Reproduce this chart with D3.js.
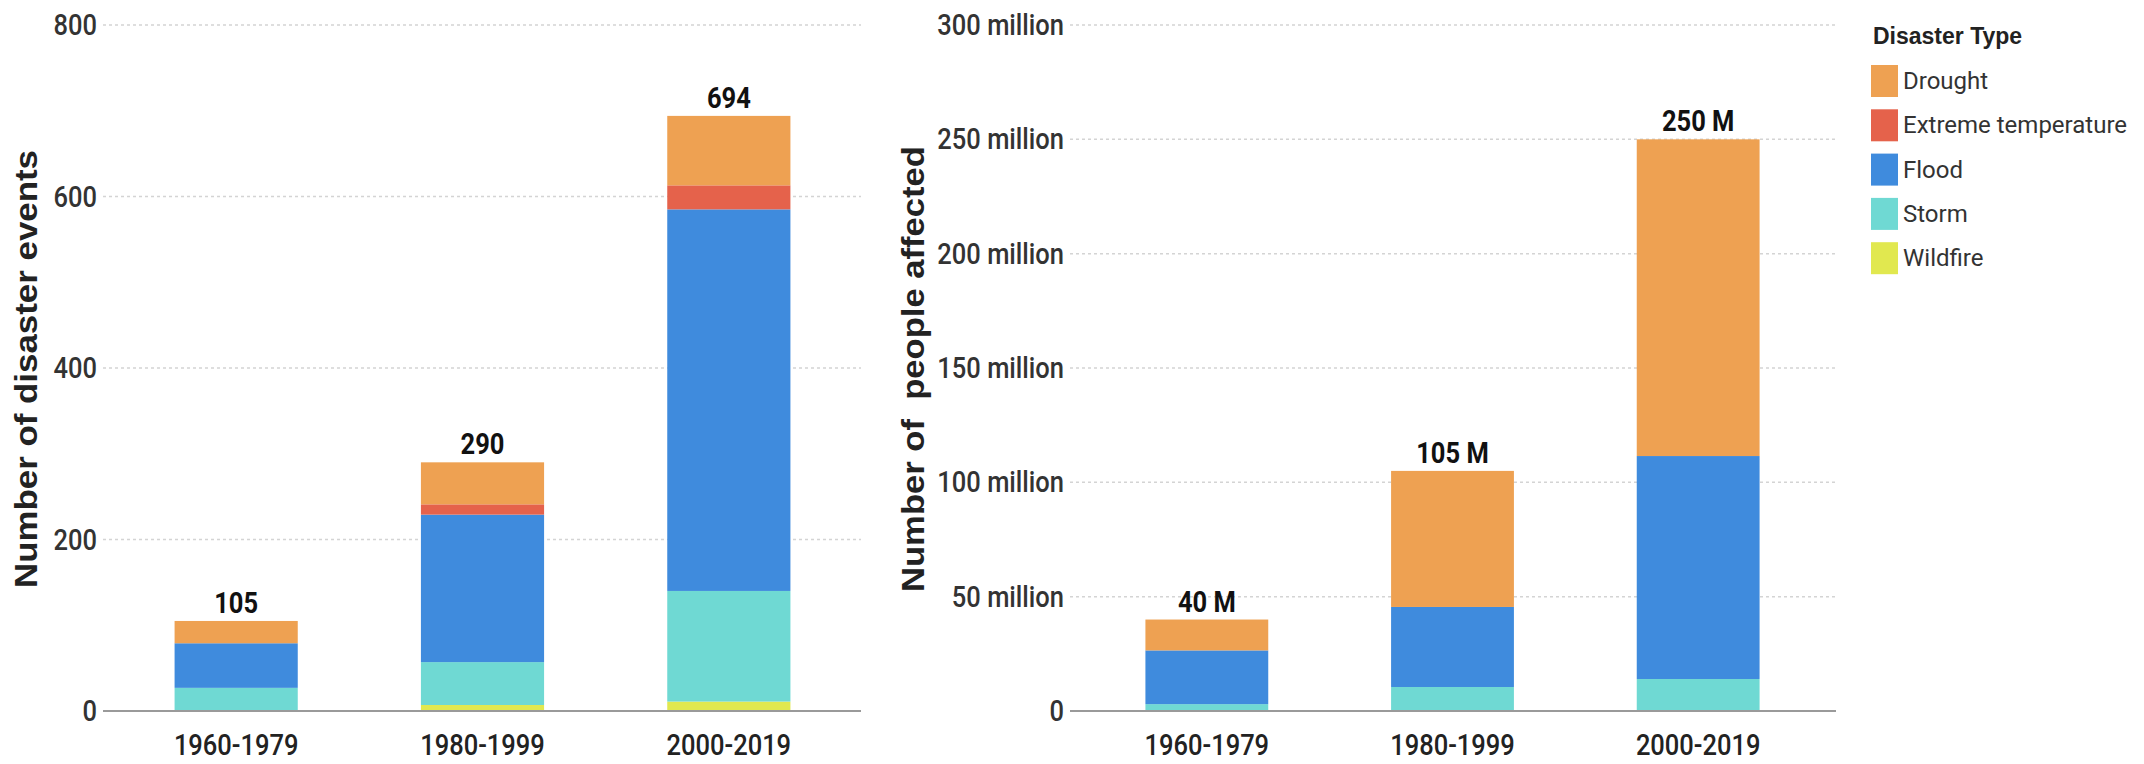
<!DOCTYPE html>
<html lang="en">
<head>
    <meta charset="UTF-8">
    <title>Disaster events and people affected</title>
    <script src="https://d3js.org/d3.v7.min.js"></script>
    <style>
        body {
            margin: 0;
            background: #fff;
        }
        svg {
            display: block;
        }
        .grid line {
            stroke: #d4d4d4;
            stroke-width: 1.5px;
            stroke-dasharray: 3,3;
        }
        .baseline {
            stroke: #9a9a9a;
            stroke-width: 2px;
        }
        .tick-label {
            font-family: Roboto, sans-serif;
            font-size: 30px;
            font-weight: 500;
            fill: #333;
        }
        .cat-label {
            font-family: Roboto, sans-serif;
            font-size: 30px;
            font-weight: 500;
            fill: #222;
            text-anchor: middle;
        }
        .total-label {
            font-family: Roboto, sans-serif;
            font-size: 30px;
            font-weight: bold;
            fill: #111;
            text-anchor: middle;
        }
        .axis-title {
            font-family: "Liberation Sans", Arial, sans-serif;
            font-size: 31px;
            font-weight: bold;
            fill: #222;
            text-anchor: middle;
            white-space: pre;
        }
        .legend-title {
            font-family: "Liberation Sans", Arial, sans-serif;
            font-size: 23px;
            font-weight: bold;
            fill: #222;
        }
        .legend-label {
            font-family: Roboto, sans-serif;
            font-size: 24px;
            fill: #333;
        }
    </style>
</head>
<body>
<svg id="chart" width="2144" height="764"></svg>
<script>
    // categories
    const periods = ["1960-1979", "1980-1999", "2000-2019"];
    const types = ["Drought", "Extreme temperature", "Flood", "Storm", "Wildfire"];
    const typeColors = ["#eea152", "#e5624b", "#3f8bdd", "#6fd9d3", "#e1e84f"];

    // number of disaster events, per period
    const eventsDrought = [26, 49, 81];
    const eventsExtremeTemp = [0, 12, 28];
    const eventsFlood = [52, 172, 445];
    const eventsStorm = [27, 50, 129];
    const eventsWildfire = [0, 7, 11];
    const eventTotals = [105, 290, 694];

    // people affected (millions), per period
    const affectedDrought = [13.5, 59.5, 138.5];
    const affectedExtremeTemp = [0, 0, 0];
    const affectedFlood = [23.5, 35, 97.5];
    const affectedStorm = [3, 10.5, 14];
    const affectedWildfire = [0, 0, 0];
    const affectedTotals = [40, 105, 250];

    // tick labels
    const eventTicks = [0, 200, 400, 600, 800];
    const eventTickLabels = ["0", "200", "400", "600", "800"];
    const affectedTicks = [0, 50, 100, 150, 200, 250, 300];
    const affectedTickLabels = ["0", "50 million", "100 million", "150 million", "200 million", "250 million", "300 million"];
    const affectedTotalLabels = ["40 M", "105 M", "250 M"];

    const color = d3.scaleOrdinal().domain(types).range(typeColors);
    // bottom-to-top stacking order
    const stackKeys = ["Wildfire", "Storm", "Flood", "Extreme temperature", "Drought"];

    // the chart's labels use a condensed face; squeeze Roboto to fake it
    const squeeze = 0.85;

    const svg = d3.select("#chart");

    function buildRows(drought, extreme, flood, storm, wildfire) {
        return periods.map((p, i) => ({
            period: p,
            "Drought": drought[i],
            "Extreme temperature": extreme[i],
            "Flood": flood[i],
            "Storm": storm[i],
            "Wildfire": wildfire[i]
        }));
    }

    function drawPanel(opts) {
        const g = svg.append("g");
        const y = d3.scaleLinear().domain([0, opts.max]).range([711, 25]);
        const x = d3.scaleBand().domain(periods)
            .range(opts.band)
            .paddingInner(0.5)
            .paddingOuter(0.25);

        // dotted grid
        g.append("g").attr("class", "grid")
            .selectAll("line")
            .data(opts.ticks.filter(t => t > 0))
            .join("line")
            .attr("x1", opts.grid[0])
            .attr("x2", opts.grid[1])
            .attr("y1", d => y(d))
            .attr("y2", d => y(d));

        // tick labels
        g.append("g")
            .selectAll("text")
            .data(opts.ticks)
            .join("text")
            .attr("class", "tick-label")
            .attr("text-anchor", "end")
            .attr("transform", d => `translate(${opts.grid[0] - 6},${y(d) + 10}) scale(${squeeze},1)`)
            .text((d, i) => opts.tickLabels[i]);

        // stacked bars
        const series = d3.stack().keys(stackKeys)(opts.rows);
        g.append("g")
            .selectAll("g")
            .data(series)
            .join("g")
            .attr("fill", d => color(d.key))
            .selectAll("rect")
            .data(d => d)
            .join("rect")
            .attr("x", d => x(d.data.period))
            .attr("width", x.bandwidth())
            .attr("y", d => y(d[1]))
            .attr("height", d => y(d[0]) - y(d[1]));

        // zero line
        g.append("line")
            .attr("class", "baseline")
            .attr("x1", opts.grid[0])
            .attr("x2", opts.grid[1])
            .attr("y1", y(0))
            .attr("y2", y(0));

        // totals on top
        g.append("g")
            .selectAll("text")
            .data(opts.totals)
            .join("text")
            .attr("class", "total-label")
            .attr("transform", (d, i) => `translate(${x(periods[i]) + x.bandwidth() / 2},${y(d) - 8}) scale(${squeeze},1)`)
            .text((d, i) => opts.totalLabels[i]);

        // period labels
        g.append("g")
            .selectAll("text")
            .data(periods)
            .join("text")
            .attr("class", "cat-label")
            .attr("transform", d => `translate(${x(d) + x.bandwidth() / 2},755) scale(${squeeze},1)`)
            .text(d => d);

        // y axis title
        g.append("text")
            .attr("class", "axis-title")
            .attr("transform", `translate(${opts.titleX},${opts.titleY}) rotate(-90)`)
            .attr("textLength", opts.titleLength)
            .attr("lengthAdjust", "spacingAndGlyphs")
            .text(opts.title);
    }

    drawPanel({
        rows: buildRows(eventsDrought, eventsExtremeTemp, eventsFlood, eventsStorm, eventsWildfire),
        max: 800,
        ticks: eventTicks,
        tickLabels: eventTickLabels,
        totals: eventTotals,
        totalLabels: eventTotals.map(String),
        band: [113, 852],
        grid: [103, 861],
        title: "Number of disaster events",
        titleX: 37,
        titleY: 369,
        titleLength: 438
    });

    drawPanel({
        rows: buildRows(affectedDrought, affectedExtremeTemp, affectedFlood, affectedStorm, affectedWildfire),
        max: 300,
        ticks: affectedTicks,
        tickLabels: affectedTickLabels,
        totals: affectedTotals,
        totalLabels: affectedTotalLabels,
        band: [1084, 1821],
        grid: [1070, 1836],
        title: "Number of  people affected",
        titleX: 924,
        titleY: 369,
        titleLength: 446
    });

    // legend
    const legend = svg.append("g").attr("transform", "translate(1871,0)");
    legend.append("text")
        .attr("class", "legend-title")
        .attr("x", 2)
        .attr("y", 44)
        .text("Disaster Type");

    const item = legend.selectAll("g.item")
        .data(types)
        .join("g")
        .attr("class", "item")
        .attr("transform", (d, i) => `translate(0,${65 + i * 44.3})`);

    item.append("rect")
        .attr("width", 27)
        .attr("height", 32)
        .attr("fill", d => color(d));

    item.append("text")
        .attr("class", "legend-label")
        .attr("x", 32)
        .attr("y", 24)
        .text(d => d);
</script>
</body>
</html>
